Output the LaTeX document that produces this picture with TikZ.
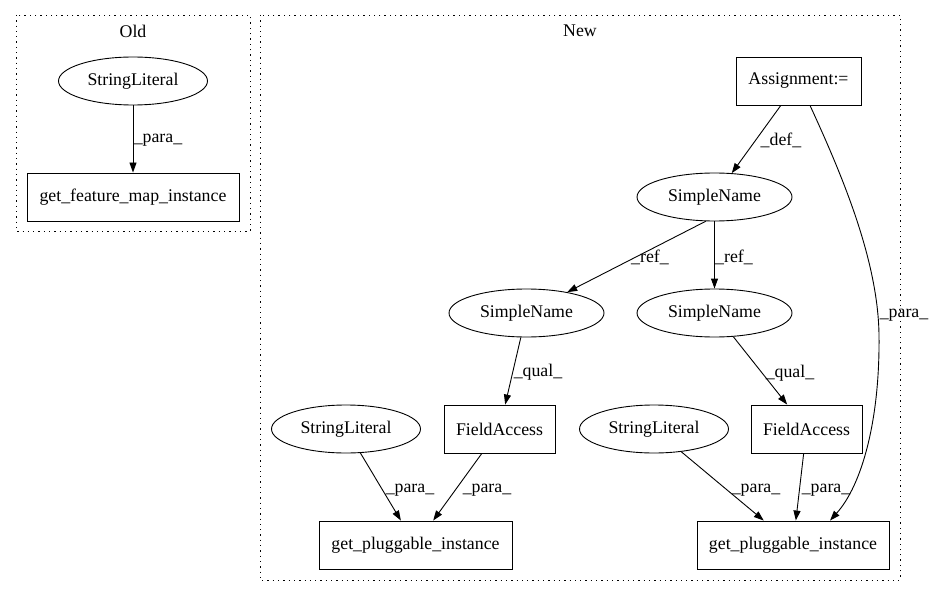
\documentclass[tikz,border=0pt]{standalone}
\usepackage{fontspec}
\setmainfont{Liberation Serif}
\usetikzlibrary{arrows.meta,shapes.geometric}
\begin{document}
\begin{tikzpicture}[x=1pt,y=-1pt,
  every node/.style={font=\fontsize{17.8}{20}\selectfont},
  ell/.style={draw,ellipse,line width=0.9pt,minimum width=149pt,minimum height=48pt,inner sep=0pt},
  ellb/.style={ell,minimum width=155pt},
  box/.style={draw,rectangle,line width=0.9pt,minimum height=48pt,inner sep=0pt},
  cluster/.style={draw,line width=0.9pt,dash pattern=on 1.3pt off 4pt},
  edge/.style={line width=0.9pt,-{Triangle[length=10pt,width=7pt]}},
  lbl/.style={inner sep=0pt}]
\useasboundingbox (0,0) rectangle (933,596);
% clusters
\draw[cluster] (16,15) rectangle (250,231);
\draw[cluster] (260,15) rectangle (900,580);
\node[lbl] (oldlbl) at (133,31) {Old};
\node[lbl] (newlbl) at (580,31) {New};
% Old
\node[ell] (osl) at (133,81) {StringLiteral};
\node[box,minimum width=212pt] (ogf) at (133,197) {get\_feature\_map\_instance};
\draw[edge] (osl) -- (ogf);
\node[lbl] (l0) at (158,140) {\_para\_};
% New
\node[box,minimum width=125pt] (asg) at (798.5,81) {Assignment:=};
\node[ellb] (snt) at (714.5,197) {SimpleName};
\node[ellb] (snl) at (526.5,313) {SimpleName};
\node[ellb] (snr) at (714.5,313) {SimpleName};
\node[ell] (sll) at (346,429) {StringLiteral};
\node[box,minimum width=111pt] (fal) at (499.5,429) {FieldAccess};
\node[ell] (slr) at (654,429) {StringLiteral};
\node[box,minimum width=111pt] (far) at (806.5,429) {FieldAccess};
\node[box,minimum width=193pt] (gpl) at (415.5,545) {get\_pluggable\_instance};
\node[box,minimum width=192pt] (gpr) at (793,545) {get\_pluggable\_instance};
% edges
\draw[edge] (asg) -- (snt);
\draw[edge] (snt.250) -- (snl);
\draw[edge] (snt) -- (snr);
\draw[edge] (snl) -- (fal);
\draw[edge] (snr) -- (far);
\draw[edge] (sll) -- (gpl);
\draw[edge] (fal) -- (gpl);
\draw[edge] (slr) -- (gpr);
\draw[edge] (far) -- (gpr);
\draw[edge] ([xshift=11.5pt]asg.south) .. controls (842,175) and (878,260) .. (879,335)
  .. controls (880,420) and (862,485) .. ([xshift=37pt]gpr.north);
% labels
\node[lbl] (l1) at (781,140) {\_def\_};
\node[lbl] (l2) at (650,257) {\_ref\_};
\node[lbl] (l3) at (734,257) {\_ref\_};
\node[lbl] (l4) at (538,372) {\_qual\_};
\node[lbl] (l5) at (790,373) {\_qual\_};
\node[lbl] (l6) at (904,315) {\_para\_};
\node[lbl] (l7) at (410,490) {\_para\_};
\node[lbl] (l8) at (487,490) {\_para\_};
\node[lbl] (l9) at (756,490) {\_para\_};
\node[lbl] (l10) at (826,490) {\_para\_};
\end{tikzpicture}
\end{document}
